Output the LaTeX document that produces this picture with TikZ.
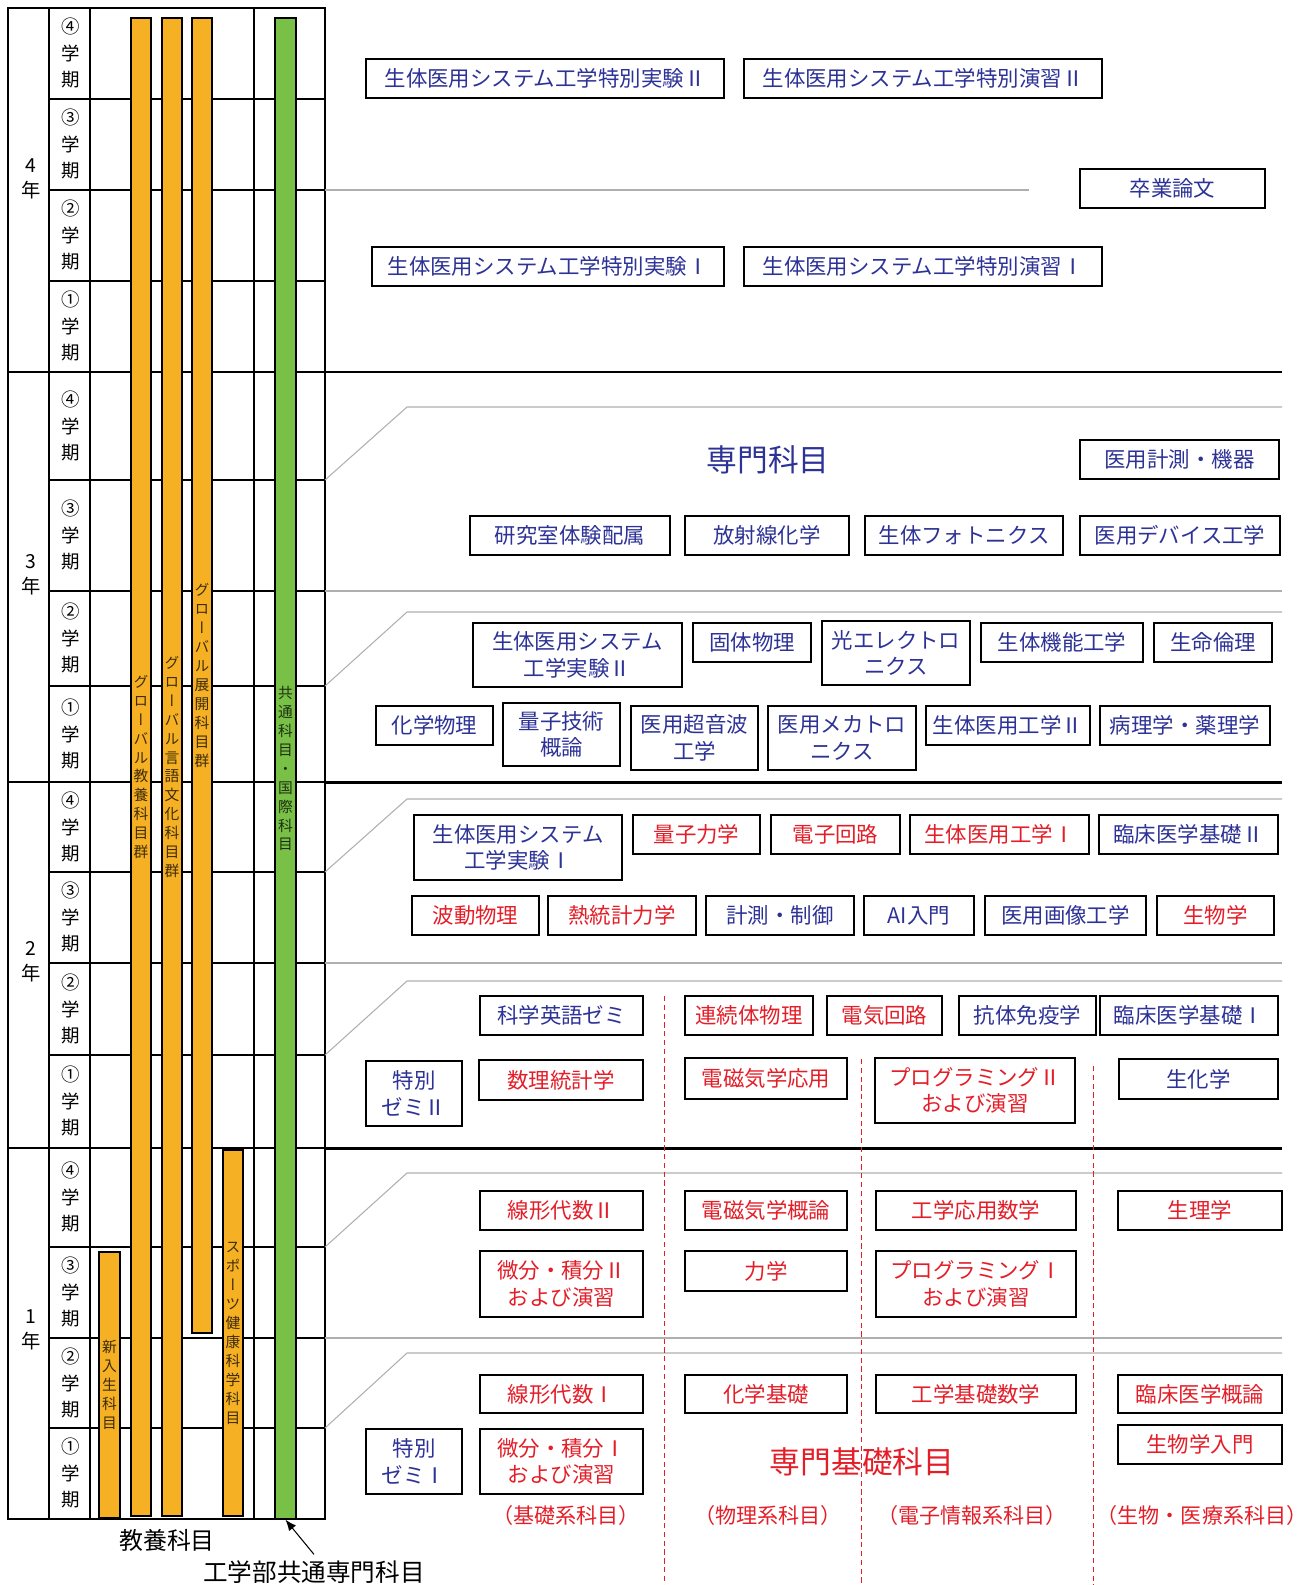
\documentclass[tikz,border=0pt]{standalone}
\usepackage{fontspec}
\setmainfont{Noto Sans CJK JP}
\newfontfamily\tatefont[RawFeature=+vert]{Noto Sans CJK JP}
\usetikzlibrary{arrows.meta}

\definecolor{kblue}{RGB}{45,50,150}
\definecolor{kred}{RGB}{228,30,40}
\definecolor{korange}{RGB}{246,176,35}
\definecolor{kgreen}{RGB}{120,192,70}
\definecolor{kgray}{RGB}{175,175,175}

\begin{document}
\begin{tikzpicture}[x=0.02cm,y=-0.02cm,
  tab_line/.style={line width=0.8pt},
  gray_line/.style={draw=kgray,line width=0.6pt},
  year_line/.style={line width=1.7pt},
  sem_label/.style={align=center,font=\fontsize{10.5}{15.3}\selectfont},
  year_label/.style={align=center,font=\fontsize{11}{14}\selectfont},
  wh/.style 2 args={minimum width=#1*0.02cm,minimum height=#2*0.02cm},
  course_box/.style={draw,line width=1.3pt,inner sep=0pt,align=center,fill=white,
    font=\fontsize{12.2}{15}\selectfont},
  blue_box/.style={course_box,text=kblue},
  red_box/.style={course_box,text=kred},
  orange_bar/.style={draw,line width=0.8pt,fill=korange,inner sep=0pt,align=center,
    text=korange!25!black,font=\tatefont\fontsize{8.4}{10.8}\selectfont},
  green_bar/.style={orange_bar,fill=kgreen,text=kgreen!25!black},
  col_label/.style={text=kred,font=\fontsize{12}{14}\selectfont}]

  \useasboundingbox (0,0) rectangle (1314,1585);

  % left table
  \draw[tab_line] (8,8) rectangle (325,1519);
  \draw[tab_line] (49,8) -- (49,1519) (90,8) -- (90,1519) (254,8) -- (254,1519);
  \draw[tab_line] (8,372) -- (325,372) (8,782) -- (325,782) (8,1148) -- (325,1148);
  \draw[tab_line] (49,99) -- (325,99) (49,190) -- (325,190) (49,281) -- (325,281)
    (49,480) -- (325,480) (49,591) -- (325,591) (49,686) -- (325,686)
    (49,872) -- (325,872) (49,963) -- (325,963) (49,1055) -- (325,1055)
    (49,1247) -- (325,1247) (49,1338) -- (325,1338) (49,1428) -- (325,1428);

  \node[year_label] (y4) at (31,179) {4\\年};
  \node[year_label] (y3) at (31,575) {3\\年};
  \node[year_label] (y2) at (31,962) {2\\年};
  \node[year_label] (y1) at (31,1330) {1\\年};

  \node[sem_label] (s44) at (71,53) {④\\学\\期};
  \node[sem_label] (s43) at (71,144) {③\\学\\期};
  \node[sem_label] (s42) at (71,235) {②\\学\\期};
  \node[sem_label] (s41) at (71,326) {①\\学\\期};
  \node[sem_label] (s34) at (71,426) {④\\学\\期};
  \node[sem_label] (s33) at (71,535) {③\\学\\期};
  \node[sem_label] (s32) at (71,638) {②\\学\\期};
  \node[sem_label] (s31) at (71,734) {①\\学\\期};
  \node[sem_label] (s24) at (71,827) {④\\学\\期};
  \node[sem_label] (s23) at (71,917) {③\\学\\期};
  \node[sem_label] (s22) at (71,1009) {②\\学\\期};
  \node[sem_label] (s21) at (71,1101) {①\\学\\期};
  \node[sem_label] (s14) at (71,1197) {④\\学\\期};
  \node[sem_label] (s13) at (71,1292) {③\\学\\期};
  \node[sem_label] (s12) at (71,1383) {②\\学\\期};
  \node[sem_label] (s11) at (71,1473) {①\\学\\期};

  % bars
  \node[orange_bar,wh={21}{266}] (shinnyusei) at (109.5,1385) {新\\入\\生\\科\\目};
  \node[orange_bar,wh={20}{1498}] (kyoyo) at (141,767) {グ\\ロ\\ー\\バ\\ル\\教\\養\\科\\目\\群};
  \node[orange_bar,wh={20}{1498}] (gengo) at (172,767) {グ\\ロ\\ー\\バ\\ル\\言\\語\\文\\化\\科\\目\\群};
  \node[orange_bar,wh={20}{1315}] (tenkai) at (202,675.5) {グ\\ロ\\ー\\バ\\ル\\展\\開\\科\\目\\群};
  \node[orange_bar,wh={20}{366}] (sports) at (233,1333) {ス\\ポ\\ー\\ツ\\健\\康\\科\\学\\科\\目};
  \node[green_bar,wh={21}{1501}] (kyotsu) at (285.5,768.5) {共\\通\\科\\目\\・\\国\\際\\科\\目};

  \node[font=\fontsize{13.6}{16}\selectfont] (kyoyo_label) at (167,1540) {教養科目};
  \node[font=\fontsize{14}{16}\selectfont] (kogakubu) at (314,1572) {工学部共通専門科目};
  \draw[-{Latex[length=2.2mm,width=1.8mm]},line width=0.6pt] (kogakubu.north) -- (kyotsu.south);

  % right side rules
  \draw[gray_line] (325,190) -- (1029,190);
  \draw[gray_line] (325,480) -- (407,407) -- (1282,407);
  \draw[gray_line] (325,591) -- (1282,591);
  \draw[gray_line] (325,686) -- (407,612) -- (1282,612);
  \draw[gray_line] (325,872) -- (407,799) -- (1282,799);
  \draw[gray_line] (325,963) -- (1282,963);
  \draw[gray_line] (325,1055) -- (407,981) -- (1282,981);
  \draw[gray_line] (325,1247) -- (407,1173) -- (1282,1173);
  \draw[gray_line] (325,1338) -- (1282,1338);
  \draw[gray_line] (325,1428) -- (407,1353) -- (1282,1353);
  \draw[year_line] (325,372) -- (1282,372) (325,782) -- (1282,782) (325,1148) -- (1282,1148);
  \draw[kred,line width=0.5pt,dash pattern=on 3pt off 2pt]
    (664,996) -- (664,1585) (861,1059) -- (861,1585) (1093,1066) -- (1093,1585);

  % 4th year
  \node[blue_box,wh={358}{39}] (tokujikken2) at (545,78.5) {生体医用システム工学特別実験Ⅱ};
  \node[blue_box,wh={358}{39}] (tokuensyu2) at (923,78.5) {生体医用システム工学特別演習Ⅱ};
  \node[blue_box,wh={185}{39}] (sotsuron) at (1172.5,188.5) {卒業論文};
  \node[blue_box,wh={352}{39}] (tokujikken1) at (548,266.5) {生体医用システム工学特別実験Ⅰ};
  \node[blue_box,wh={358}{39}] (tokuensyu1) at (923,266.5) {生体医用システム工学特別演習Ⅰ};

  % 3rd year
  \node[text=kblue,font=\fontsize{17.5}{20}\selectfont] (senmon) at (768,460) {専門科目};
  \node[blue_box,wh={199}{39}] (keisoku) at (1179.5,459.5) {医用計測・機器};
  \node[blue_box,wh={200}{39}] (haizoku) at (570,535.5) {研究室体験配属};
  \node[blue_box,wh={164}{39}] (hoshasen) at (767,535.5) {放射線化学};
  \node[blue_box,wh={198}{39}] (photonics) at (964,535.5) {生体フォトニクス};
  \node[blue_box,wh={200}{39}] (device) at (1180,535.5) {医用デバイス工学};
  \node[blue_box,wh={209}{64}] (sysjikken2) at (577.5,655) {生体医用システム\\工学実験Ⅱ};
  \node[blue_box,wh={118}{39}] (kotai) at (752,642.5) {固体物理};
  \node[blue_box,wh={148}{64}] (hikari) at (896,653) {光エレクトロ\\ニクス};
  \node[blue_box,wh={162}{39}] (kino) at (1062,642.5) {生体機能工学};
  \node[blue_box,wh={118}{39}] (rinri) at (1213,642.5) {生命倫理};
  \node[blue_box,wh={117}{39}] (kagakubutsuri) at (434.5,725.5) {化学物理};
  \node[blue_box,wh={117}{63}] (ryoshigijutsu) at (561.5,734.5) {量子技術\\概論};
  \node[blue_box,wh={127}{64}] (choonpa) at (694.5,738) {医用超音波\\工学};
  \node[blue_box,wh={148}{64}] (mechatro) at (842,738) {医用メカトロ\\ニクス};
  \node[blue_box,wh={164}{39}] (seitai2) at (1008,725.5) {生体医用工学Ⅱ};
  \node[blue_box,wh={170}{39}] (byori) at (1185,725.5) {病理学・薬理学};

  % 2nd year
  \node[blue_box,wh={208}{65}] (sysjikken1) at (518,847.5) {生体医用システム\\工学実験Ⅰ};
  \node[red_box,wh={127}{39}] (ryoshi) at (696.5,834.5) {量子力学};
  \node[red_box,wh={129}{39}] (denshikairo) at (835.5,834.5) {電子回路};
  \node[red_box,wh={179}{39}] (seitai1) at (999.5,834.5) {生体医用工学Ⅰ};
  \node[blue_box,wh={179}{39}] (rinsho2) at (1188.5,834.5) {臨床医学基礎Ⅱ};
  \node[red_box,wh={127}{39}] (hado) at (475.5,915.5) {波動物理};
  \node[red_box,wh={148}{39}] (netsu) at (622,915.5) {熱統計力学};
  \node[blue_box,wh={148}{39}] (seigyo) at (780,915.5) {計測・制御};
  \node[blue_box,wh={110}{39}] (ai) at (919,915.5) {AI入門};
  \node[blue_box,wh={161}{39}] (gazo) at (1065.5,915.5) {医用画像工学};
  \node[red_box,wh={117}{39}] (seibutsu) at (1215.5,915.5) {生物学};
  \node[blue_box,wh={163}{39}] (eigo) at (561.5,1015.5) {科学英語ゼミ};
  \node[red_box,wh={128}{39}] (renzoku) at (749,1015.5) {連続体物理};
  \node[red_box,wh={115}{39}] (denki) at (884.5,1015.5) {電気回路};
  \node[blue_box,wh={137}{39}] (meneki) at (1027.5,1015.5) {抗体免疫学};
  \node[blue_box,wh={178}{39}] (rinsho1) at (1189,1015.5) {臨床医学基礎Ⅰ};
  \node[blue_box,wh={96}{65}] (zemi2) at (414,1093.5) {特別\\ゼミⅡ};
  \node[red_box,wh={164}{40}] (suri) at (561,1080) {数理統計学};
  \node[red_box,wh={162}{41}] (denjiki_oyo) at (766,1078.5) {電磁気学応用};
  \node[red_box,wh={200}{65}] (prog2) at (975,1090.5) {プログラミングⅡ\\および演習};
  \node[blue_box,wh={159}{40}] (seikagaku) at (1198.5,1079) {生化学};

  % 1st year
  \node[red_box,wh={163}{39}] (senkei2) at (561.5,1210.5) {線形代数Ⅱ};
  \node[red_box,wh={162}{39}] (denjiki_gairon) at (766,1210.5) {電磁気学概論};
  \node[red_box,wh={200}{39}] (oyosugaku) at (976,1210.5) {工学応用数学};
  \node[red_box,wh={164}{39}] (seiri) at (1200,1210.5) {生理学};
  \node[red_box,wh={163}{66}] (bibun2) at (561.5,1284) {微分・積分Ⅱ\\および演習};
  \node[red_box,wh={162}{40}] (rikigaku) at (766,1271) {力学};
  \node[red_box,wh={200}{66}] (prog1) at (976,1284) {プログラミングⅠ\\および演習};
  \node[red_box,wh={163}{38}] (senkei1) at (561.5,1394) {線形代数Ⅰ};
  \node[red_box,wh={162}{38}] (kagakukiso) at (766,1394) {化学基礎};
  \node[red_box,wh={200}{38}] (kisosugaku) at (976,1394) {工学基礎数学};
  \node[red_box,wh={164}{38}] (gairon) at (1200,1394) {臨床医学概論};
  \node[blue_box,wh={96}{65}] (zemi1) at (414,1461.5) {特別\\ゼミⅠ};
  \node[red_box,wh={163}{65}] (bibun1) at (561.5,1461.5) {微分・積分Ⅰ\\および演習};
  \node[red_box,wh={164}{39}] (nyumon) at (1200,1444.5) {生物学入門};

  \node[text=kred,font=\fontsize{17.5}{20}\selectfont] (senmonkiso) at (862,1462) {専門基礎科目};
  \node[col_label] (kisokei) at (566,1515) {（基礎系科目）};
  \node[col_label] (butsurikei) at (768,1515) {（物理系科目）};
  \node[col_label] (denshikei) at (972,1515) {（電子情報系科目）};
  \node[col_label] (seibutsukei) at (1202,1515) {（生物・医療系科目）};
\end{tikzpicture}
\end{document}
